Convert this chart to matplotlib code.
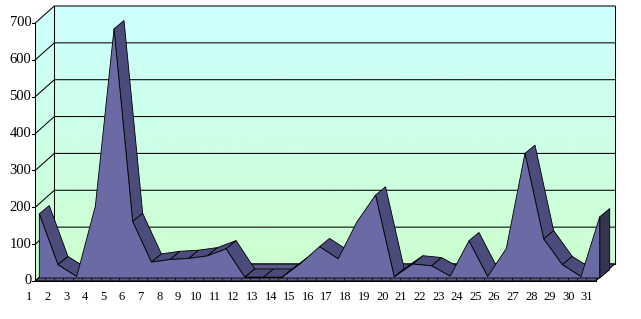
import numpy as np
import matplotlib
matplotlib.use('Agg')
import matplotlib.pyplot as plt
from matplotlib.patches import Polygon
from matplotlib.colors import to_rgb

days = list(range(1, 32))
values = [174, 36, 4, 195, 676, 153, 43, 50, 53, 60, 79, 2, 2, 2, 40, 85,
          52, 152, 225, 3, 38, 33, 5, 101, 4, 80, 338, 106, 36, 4, 166]
y_ticks = list(range(0, 800, 100))

W, H = 641, 319
fig = plt.figure(figsize=(W / 100, H / 100), dpi=100)
ax = fig.add_axes([0, 0, 1, 1])
ax.axis('off')

# pixel scale of the fake 3d frame
px_cat, px_val = 18.68, 0.3686
x_left = 1 - 35.3 / px_cat
xlim = (x_left, x_left + W / px_cat)
ylim = (-(H - 281) / px_val, 281 / px_val)

def off(dx, dy):
    return dx / px_cat, dy / px_val

D = off(19, 17)      # full depth of the floor
F = off(4, 3)        # series front plane
B = off(14, 11.3)    # series back plane
x0, x1 = days[0], days[-1]
vmax = y_ticks[-1]

# walls with vertical gradient
top, bot = np.array(to_rgb('#ccffff')), np.array(to_rgb('#ccffcc'))
t = np.linspace(0, 1, 256)[:, None, None]
grad = top * (1 - t) + bot * t
wall = Polygon([(x0, 0), (x0, vmax), (x0 + D[0], vmax + D[1]), (x1 + D[0], vmax + D[1]),
                (x1 + D[0], D[1]), (x0 + D[0], D[1])], closed=True, fc='none', ec='none')
ax.add_patch(wall)
im = ax.imshow(grad, extent=[x0, x1 + D[0], 0, vmax + D[1]], aspect='auto', origin='upper', zorder=0)
im.set_clip_path(wall)

lw = 0.75
for v in y_ticks:
    ax.plot([x0, x0 + D[0], x1 + D[0]], [v, v + D[1], v + D[1]], color='black', lw=lw, zorder=1)
    ax.plot([x0 - 3 / px_cat, x0], [v, v], color='black', lw=lw, zorder=1)
    ax.text(x0 - 4 / px_cat, v, str(v), ha='right', va='center', fontsize=10.5,
            family='Liberation Serif')
ax.plot([x0, x0], [0, vmax], color='black', lw=lw, zorder=1)
ax.plot([x0 + D[0]] * 2, [D[1], vmax + D[1]], color='black', lw=lw, zorder=1)
ax.plot([x1 + D[0]] * 2, [D[1], vmax + D[1]], color='black', lw=lw, zorder=1)

# floor
ax.add_patch(Polygon([(x0, 0), (x1, 0), (x1 + D[0], D[1]), (x0 + D[0], D[1])],
                     closed=True, fc='#5a5a86', ec='black', lw=lw, zorder=2))

# series slab
fx = [d + F[0] for d in days]
bx = [d + B[0] for d in days]
c_front, c_top, c_side = '#6a6aa4', '#4b4b7c', '#34344e'
for i in range(len(days) - 1):
    dv = values[i + 1] - values[i]
    if px_cat * 8.3 - dv * px_val * 10 > 0:
        ax.add_patch(Polygon([(fx[i], values[i] + F[1]), (fx[i + 1], values[i + 1] + F[1]),
                              (bx[i + 1], values[i + 1] + B[1]), (bx[i], values[i] + B[1])],
                             closed=True, fc=c_top, ec='black', lw=0.6, zorder=3))
ax.add_patch(Polygon([(fx[-1], F[1]), (fx[-1], values[-1] + F[1]),
                      (bx[-1], values[-1] + B[1]), (bx[-1], B[1])],
                     closed=True, fc=c_side, ec='black', lw=0.6, zorder=3))
pts = [(fx[0], F[1])] + list(zip(fx, [v + F[1] for v in values])) + [(fx[-1], F[1])]
ax.add_patch(Polygon(pts, closed=True, fc=c_front, ec='black', lw=0.6, zorder=4))

# x axis
ax.plot([x0, x1], [0, 0], color='black', lw=lw, zorder=5)
for xt in np.arange(x0, x1 + 0.01, 0.5):
    ax.plot([xt, xt], [0, 3 / px_val], color='black', lw=0.5, zorder=5)
for d in days:
    lx = x0 + (d - 1) * 18.6 / px_cat - 6.3 / px_cat
    ax.text(lx, -16 / px_val, str(d), ha='center', va='center', fontsize=9,
            family='Liberation Serif')

ax.set_xlim(*xlim)
ax.set_ylim(*ylim)
fig.savefig('out.png', dpi=100, facecolor='white')
